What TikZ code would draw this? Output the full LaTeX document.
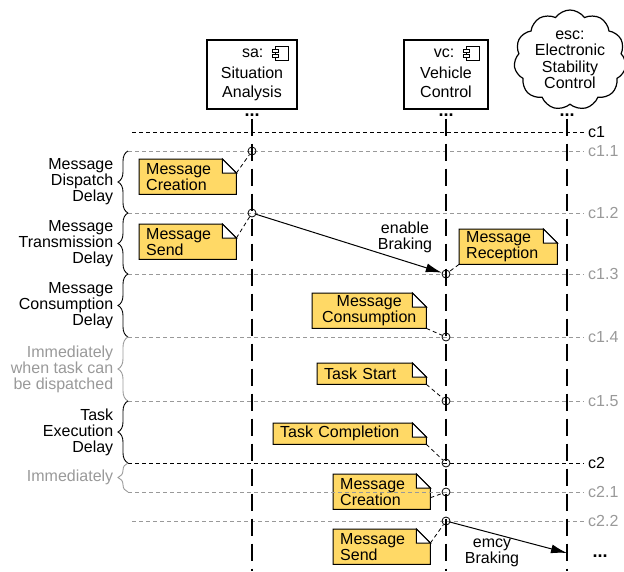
\documentclass[tikz,border=0pt]{standalone}
\usepackage{fontspec}
\setmainfont{Liberation Sans}
\usetikzlibrary{positioning,backgrounds,calc,arrows.meta,decorations.pathreplacing,shapes.symbols}
\definecolor{notefill}{HTML}{FFD966}
\definecolor{lgray}{HTML}{999999}

\begin{document}
\begin{tikzpicture}[x=1pt,y=-1pt,
   font=\fontsize{16}{16}\selectfont,
   head/.style={draw,line width=1.2pt,minimum height=69pt,align=center,inner sep=0pt,
     font=\fontsize{16}{19.5}\selectfont},
   dots/.style={font=\fontsize{18}{18}\selectfont\bfseries,inner sep=2pt},
   life/.style={line width=1.2pt,dash pattern=on 17pt off 8pt},
   chrono/.style={line width=0.9pt,dash pattern=on 4pt off 3pt},
   brc/.style={decorate,decoration={brace,mirror,amplitude=10pt},line width=0.9pt},
   event/.style={circle,draw,line width=0.8pt,minimum size=8pt,inner sep=0pt},
   msg/.style={line width=1pt,-{Latex[length=16pt,width=9pt]}},
   note/.style={inner xsep=7pt,inner ysep=0pt,align=left,text width=#1,
     minimum height=35pt,anchor=north west},
   link/.style={line width=0.8pt,dash pattern=on 4pt off 3pt}]
 \useasboundingbox (0,0) rectangle (624,571);

 % lifeline heads
 \node[head,minimum width=90pt] (sa) at (252,74.5) {\strut\\Situation\\Analysis\strut};
 \node[head,minimum width=84pt] (vc) at (446,74.5) {\strut\\Vehicle\\Control\strut};
 \node[cloud,draw,line width=1.2pt,cloud puffs=11,cloud puff arc=110,aspect=1.15,inner sep=0pt,
   minimum width=112pt,minimum height=100pt,align=center,font=\fontsize{16}{16.5}\selectfont]
   (esc) at (570,60) {esc:\\Electronic\\Stability\\Control};
 \foreach \h/\nm in {sa/sa:,vc/vc:}
 {\node[anchor=base east,inner sep=0pt] (\h-name) at ([xshift=-34pt,yshift=-18pt]\h.north east) {\nm};
  \draw[line width=0.8pt] ([xshift=-22pt,yshift=-7pt]\h.north east) rectangle ([xshift=-9pt,yshift=-21pt]\h.north east);
  \draw[line width=0.8pt,fill=white] ([xshift=-25pt,yshift=-10pt]\h.north east) rectangle ([xshift=-19pt,yshift=-13pt]\h.north east);
  \draw[line width=0.8pt,fill=white] ([xshift=-25pt,yshift=-15pt]\h.north east) rectangle ([xshift=-19pt,yshift=-18pt]\h.north east);
 }

 \node[dots] (sadots) at (252,115) {...};
 \node[dots] (vcdots) at (446,115) {...};
 \node[dots] (escdots) at (567,115) {...};

 % chronology lines
 \foreach \y/\x/\lbl/\col [count=\i] in {132/132/c1/black,151/128/c1.1/lgray,213/128/c1.2/lgray,
   274/128/c1.3/lgray,337/128/c1.4/lgray,401/128/c1.5/lgray,463/128/c2/black,492/128/c2.1/lgray,521/132/c2.2/lgray}
 {\coordinate (s\i) at (\x,\y);
  \node[anchor=west,inner sep=4pt,text=\col] (t\i) at (584,\y) {\lbl};
  \draw[chrono,\col] (s\i) -- (t\i.west);
 }

 % delays
 \foreach \a/\b/\txt/\col [count=\i] in {2/3/{Message\\Dispatch\\Delay}/black,
   3/4/{Message\\Transmission\\Delay}/black,4/5/{Message\\Consumption\\Delay}/black,
   5/6/{Immediately\\when task can\\be dispatched}/lgray,6/7/{Task\\Execution\\Delay}/black,
   7/8/Immediately/lgray}
  \draw[brc,\col] (s\a) -- (s\b) node[midway,left=11pt,align=right,text=\col] (d\i) {\txt};

 % lifelines
 \coordinate (saend) at (252,571);
 \coordinate (vcend) at (446,571);
 \coordinate (escend) at (567,571);
 \draw[life] (sadots) -- (saend);
 \draw[life] (vcdots) -- (vcend);
 \draw[life] (escdots) -- (escend);

 % events
 \node[event] (e1) at (252,151) {};
 \node[event] (e2) at (252,213) {};
 \node[event] (e3) at (446,274) {};
 \node[event] (e4) at (446,337) {};
 \node[event] (e5) at (446,401) {};
 \node[event] (e6) at (446,463) {};
 \node[event] (e7) at (446,492) {};
 \node[event] (e8) at (446,521) {};

 % messages
 \draw[msg] (e2) -- (e3);
 \node[align=center] (m1) at (405,237) {enable\\Braking};
 \coordinate (escin) at (567,553);
 \draw[msg] (e8) -- (escin);
 \node[align=center] (m2) at (492,553) {emcy\\Braking};
 \node[dots] (enddots) at (600,556) {...};

 % notes
 \node[note=83pt] (n1) at (139,159) {Message\\Creation};
 \node[note=83pt] (n2) at (139,224) {Message\\Send};
 \node[note=84pt] (n3) at (459,229) {Message\\Reception};
 \node[note=100pt,align=center] (n4) at (312,293) {Message\\Consumption};
 \node[note=95pt,minimum height=21pt] (n5) at (317,363) {Task Start};
 \node[note=139pt,minimum height=21pt] (n6) at (273,423) {Task Completion};
 \node[note=83pt] (n7) at (333,474) {Message\\Creation};
 \node[note=83pt] (n8) at (333,529) {Message\\Send};

 \draw[link] ([yshift=-14pt]n1.north east) -- (e1);
 \draw[link] ([yshift=-14pt]n2.north east) -- (e2);
 \draw[link] (n3.south west) -- (e3);
 \draw[link] (n4.south east) -- (e4);
 \draw[link] (n5.south east) -- (e5);
 \draw[link] (n6.south east) -- (e6);
 \draw[link] ([yshift=-6pt]n7.east) -- (e7);
 \draw[link] ([yshift=-14pt]n8.north east) -- (e8);

 \begin{scope}[on background layer]
  \foreach \n in {n1,n2,n3,n4,n5,n6,n7,n8}
  {\filldraw[fill=notefill,line width=1pt] (\n.north west) -- ([xshift=-14pt]\n.north east)
     -- ([yshift=-14pt]\n.north east) -- (\n.south east) -- (\n.south west) -- cycle;
   \filldraw[fill=white,line width=1pt] ([xshift=-14pt]\n.north east) |- ([yshift=-14pt]\n.north east) -- cycle;
  }
 \end{scope}
\end{tikzpicture}
\end{document}
